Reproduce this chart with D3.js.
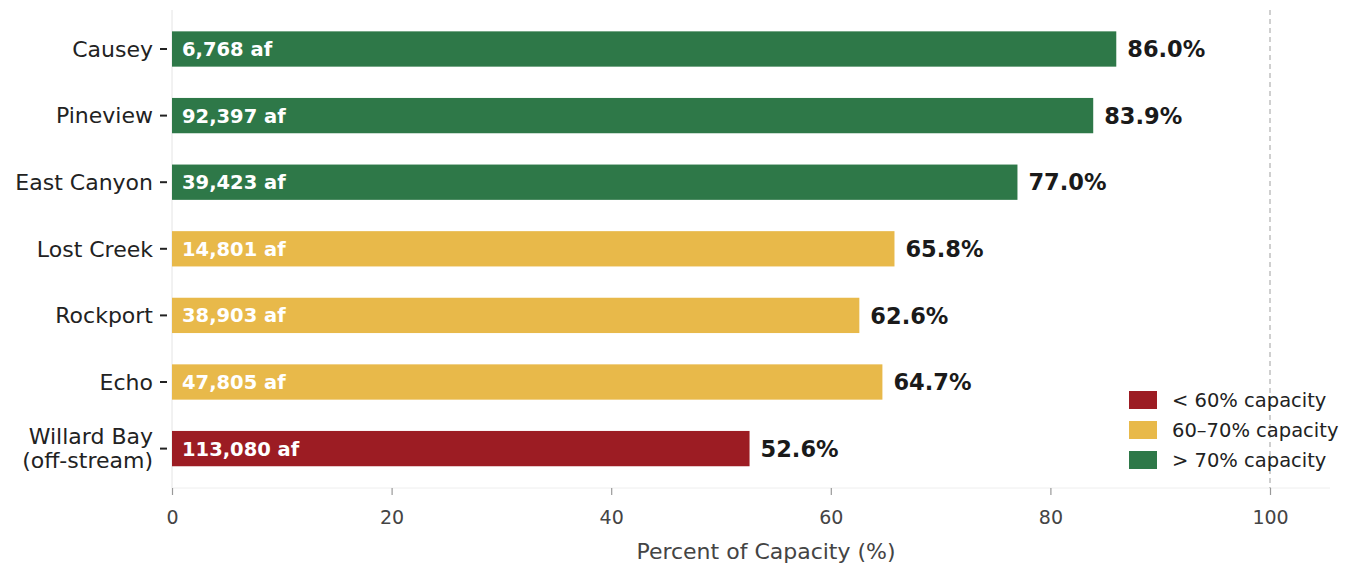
<!DOCTYPE html>
<html>
<head>
<meta charset="utf-8">
<script src="https://cdn.jsdelivr.net/npm/d3@7"></script>
<style>
  body { margin: 0; background: #fff; }
  svg { display: block; font-family: "DejaVu Sans", sans-serif; }
</style>
</head>
<body>
<svg id="chart" width="1355" height="569"></svg>
<script>
// reservoir data, top to bottom
const reservoirs = ["Causey", "Pineview", "East Canyon", "Lost Creek", "Rockport", "Echo", "Willard Bay\n(off-stream)"];
const percentFull = [86.0, 83.9, 77.0, 65.8, 62.6, 64.7, 52.6];
const storageAf = [6768, 92397, 39423, 14801, 38903, 47805, 113080];
const xTicks = [0, 20, 40, 60, 80, 100];
const legendLabels = ["< 60% capacity", "60\u201370% capacity", "> 70% capacity"];
const legendColors = ["#9c1c23", "#e8b94a", "#2e7848"];

function colorFor(p) {
  if (p < 60) return legendColors[0];
  if (p < 70) return legendColors[1];
  return legendColors[2];
}

const svg = d3.select("#chart");
const plot = { left: 172, right: 1270, top: 10, bottom: 488 };

const x = d3.scaleLinear().domain([0, 100]).range([plot.left, plot.right]);
const y = d3.scaleBand()
  .domain(reservoirs)
  .range([15.7, 15.7 + 7 * 66.6])
  .paddingInner(0.47)
  .paddingOuter(0.235);

// faint spines
svg.append("line")
  .attr("x1", plot.left).attr("x2", plot.left)
  .attr("y1", plot.top).attr("y2", plot.bottom)
  .attr("stroke", "#e4e4e4").attr("stroke-width", 1);
svg.append("line")
  .attr("x1", plot.left).attr("x2", plot.right + 60)
  .attr("y1", plot.bottom).attr("y2", plot.bottom)
  .attr("stroke", "#eeeeee").attr("stroke-width", 1);

// 100% reference line
svg.append("line")
  .attr("x1", x(100)).attr("x2", x(100))
  .attr("y1", plot.top).attr("y2", plot.bottom)
  .attr("stroke", "#b0b0b0").attr("stroke-width", 1.2)
  .attr("stroke-dasharray", "5,4");

// x axis
const xAxis = svg.append("g")
  .attr("transform", `translate(0,${plot.bottom})`)
  .call(d3.axisBottom(x).tickValues(xTicks).tickSize(7).tickPadding(16));
xAxis.select(".domain").remove();
xAxis.selectAll(".tick line").attr("stroke", "#999").attr("stroke-width", 1.2);
xAxis.selectAll(".tick text")
  .attr("fill", "#444").style("font-size", "19px")
  .style("font-family", "'DejaVu Sans', sans-serif");

svg.append("text")
  .attr("x", 766)
  .attr("y", 559)
  .attr("text-anchor", "middle")
  .attr("fill", "#444")
  .style("font-size", "22px")
  .text("Percent of Capacity (%)");

// y axis ticks + labels
const yAxis = svg.append("g")
  .attr("transform", `translate(${plot.left},0)`)
  .call(d3.axisLeft(y).tickSize(7).tickPadding(7).tickFormat(""));
yAxis.select(".domain").remove();
yAxis.selectAll(".tick line").attr("stroke", "#222").attr("stroke-width", 2)
  .attr("transform", "translate(-5,0)");

const labelSel = svg.append("g").selectAll("text")
  .data(reservoirs)
  .join("text")
  .attr("x", plot.left - 19)
  .attr("y", d => y(d) + y.bandwidth() / 2)
  .attr("text-anchor", "end")
  .attr("fill", "#222")
  .style("font-size", "22px");
labelSel.each(function (d) {
  const lines = d.split("\n");
  const t = d3.select(this);
  lines.forEach((ln, i) => {
    t.append("tspan")
      .attr("x", plot.left - 19)
      .attr("dy", i === 0 ? `${0.35 - (lines.length - 1) * 0.55}em` : "1.1em")
      .text(ln);
  });
});

// bars
svg.append("g").selectAll("rect")
  .data(reservoirs)
  .join("rect")
  .attr("x", x(0))
  .attr("y", d => y(d))
  .attr("height", y.bandwidth())
  .attr("width", (d, i) => x(percentFull[i]) - x(0))
  .attr("fill", (d, i) => colorFor(percentFull[i]));

// storage labels inside bars
const fmt = d3.format(",");
svg.append("g").selectAll("text")
  .data(reservoirs)
  .join("text")
  .attr("x", x(0) + 10)
  .attr("y", d => y(d) + y.bandwidth() / 2)
  .attr("dy", "0.36em")
  .attr("fill", "#fff")
  .style("font-size", "19.5px")
  .style("font-weight", "bold")
  .text((d, i) => `${fmt(storageAf[i])} af`);

// percent labels
svg.append("g").selectAll("text")
  .data(reservoirs)
  .join("text")
  .attr("x", (d, i) => x(percentFull[i]) + 11)
  .attr("y", d => y(d) + y.bandwidth() / 2)
  .attr("dy", "0.36em")
  .attr("fill", "#1a1a1a")
  .style("font-size", "22.5px")
  .style("font-weight", "bold")
  .text((d, i) => `${percentFull[i].toFixed(1)}%`);

// legend
const legend = svg.append("g").attr("transform", "translate(1129,391)");
const rows = legend.selectAll("g")
  .data(legendLabels)
  .join("g")
  .attr("transform", (d, i) => `translate(0,${i * 30})`);
rows.append("rect")
  .attr("width", 28).attr("height", 18)
  .attr("fill", (d, i) => legendColors[i]);
rows.append("text")
  .attr("x", 43).attr("y", 9).attr("dy", "0.36em")
  .attr("fill", "#222")
  .style("font-size", "19.5px")
  .text(d => d);
</script>
</body>
</html>
